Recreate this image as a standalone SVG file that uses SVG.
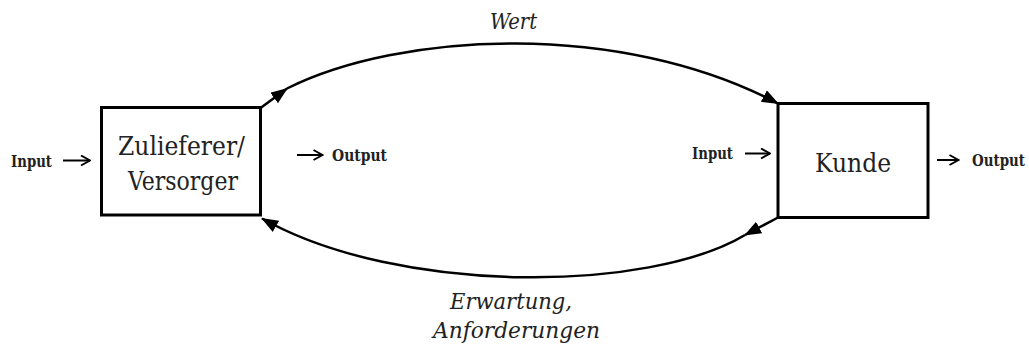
<svg xmlns="http://www.w3.org/2000/svg" width="1029" height="347" viewBox="0 0 1029 347">
  <style>
    .box { fill: #ffffff; stroke: #000000; stroke-width: 3; }
    text { font-family: "DejaVu Serif Condensed", "DejaVu Serif", serif; font-stretch: condensed; fill: #222222; }
    .node { font-size: 26px; }
    .io { font-size: 16.5px; font-weight: bold; }
    .flow { font-size: 23px; font-style: italic; }
    .arc { fill: none; stroke: #000000; stroke-width: 2.5; }
    .io-arrow { fill: none; stroke: #000000; stroke-width: 2; }
  </style>
  <defs>
    <marker id="head" viewBox="0 0 17 13" refX="16" refY="6.5" markerWidth="17" markerHeight="13" markerUnits="userSpaceOnUse" orient="auto">
      <path d="M0,0 L17,6.5 L0,13 z" fill="#000000"/>
    </marker>
    <marker id="open" viewBox="0 0 12 12" refX="11" refY="6" markerWidth="12" markerHeight="12" markerUnits="userSpaceOnUse" orient="auto">
      <path d="M2,1 L11,6 L2,11" fill="none" stroke="#000000" stroke-width="2"/>
    </marker>
  </defs>

  <!-- Supplier node -->
  <g id="zulieferer">
    <rect class="box" x="101.5" y="107.5" width="159" height="107.5"/>
    <text class="node" x="118" y="155" textLength="127" lengthAdjust="spacingAndGlyphs">Zulieferer/</text>
    <text class="node" x="128" y="190" textLength="110" lengthAdjust="spacingAndGlyphs">Versorger</text>
  </g>

  <!-- Customer node -->
  <g id="kunde">
    <rect class="box" x="778" y="103.5" width="150" height="114"/>
    <text class="node" x="815" y="171.5" textLength="76" lengthAdjust="spacingAndGlyphs">Kunde</text>
  </g>

  <!-- Input / output labels -->
  <g id="io-labels">
    <text class="io" x="11" y="166.5" textLength="41" lengthAdjust="spacingAndGlyphs">Input</text>
    <text class="io" x="332" y="160.5" textLength="55" lengthAdjust="spacingAndGlyphs">Output</text>
    <text class="io" x="692" y="159" textLength="41" lengthAdjust="spacingAndGlyphs">Input</text>
    <text class="io" x="972" y="166" textLength="53" lengthAdjust="spacingAndGlyphs">Output</text>
  </g>

  <!-- Flow labels -->
  <g id="flow-labels">
    <text class="flow" x="490" y="29" textLength="47" lengthAdjust="spacingAndGlyphs">Wert</text>
    <text class="flow" x="450" y="309" textLength="122" lengthAdjust="spacingAndGlyphs">Erwartung,</text>
    <text class="flow" x="433" y="338" textLength="167" lengthAdjust="spacingAndGlyphs">Anforderungen</text>
  </g>

  <!-- Connectors -->
  <g id="connectors">
    <!-- value flow: supplier to customer -->
    <path class="arc" d="M260.5,108 L287,88.5" marker-end="url(#head)"/>
    <path class="arc" d="M287,88.5 C400,32 620,20 778,103.5" marker-end="url(#head)"/>
    <!-- expectation flow: customer to supplier -->
    <path class="arc" d="M778,217.5 L745,235" marker-end="url(#head)"/>
    <path class="arc" d="M745,235 C650,292 400,296 262,218.5" marker-end="url(#head)"/>
    <!-- input / output arrows -->
    <path class="io-arrow" d="M63,160.5 L90,160.5" marker-end="url(#open)"/>
    <path class="io-arrow" d="M297,155 L322.5,155" marker-end="url(#open)"/>
    <path class="io-arrow" d="M745,153.5 L770,153.5" marker-end="url(#open)"/>
    <path class="io-arrow" d="M937,160 L958.5,160" marker-end="url(#open)"/>
  </g>
</svg>
